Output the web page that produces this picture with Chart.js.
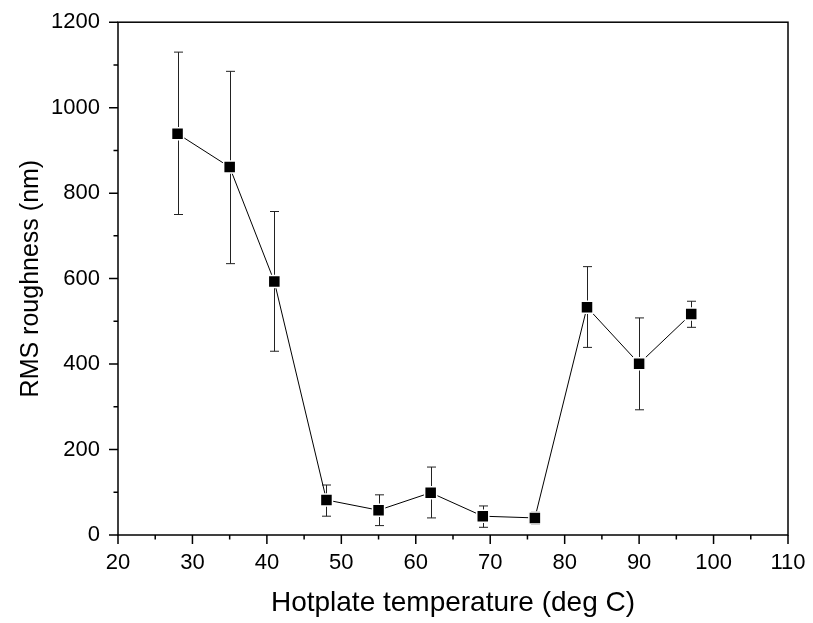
<!DOCTYPE html>
<html lang="en">
<head>
<meta charset="UTF-8">
<title>RMS roughness vs hotplate temperature</title>
<script src="https://cdn.jsdelivr.net/npm/chart.js"></script>
<style>
  html, body { margin: 0; padding: 0; background: #fff; }
  #wrap { width: 813px; height: 623px; }
</style>
</head>
<body>
<div id="wrap"><canvas id="roughChart" width="813" height="623"></canvas></div>
<script>
// data
const temps   = [28, 35, 41, 48, 55, 62, 69, 76, 83, 90, 97];
const rms     = [939, 861, 593, 82, 58, 99, 44, 40, 533, 401, 517];
const errHigh = [1130, 1085, 757, 117, 94, 159, 68, 54, 628, 508, 547];
const errLow  = [750, 635, 430, 44, 22, 40, 18, 25, 439, 293, 486];

const xMajor = [20, 30, 40, 50, 60, 70, 80, 90, 100, 110];
const yMajor = [0, 200, 400, 600, 800, 1000, 1200];

const FONT = "'Liberation Sans', Arial, sans-serif";

// error bars, drawn under the line and markers
const errorBars = {
  id: 'errorBars',
  beforeDatasetsDraw(chart) {
    const { ctx, scales: { x, y } } = chart;
    ctx.save();
    ctx.strokeStyle = '#222';
    ctx.lineWidth = 1;
    temps.forEach((t, i) => {
      const px = Math.round(x.getPixelForValue(t)) + 0.5;
      const top = y.getPixelForValue(errHigh[i]);
      const bot = y.getPixelForValue(errLow[i]);
      ctx.beginPath();
      ctx.moveTo(px, top); ctx.lineTo(px, bot);
      ctx.moveTo(px - 4.5, top); ctx.lineTo(px + 4.5, top);
      ctx.moveTo(px - 4.5, bot); ctx.lineTo(px + 4.5, bot);
      ctx.stroke();
    });
    ctx.restore();
  }
};

// box frame plus outward major / minor ticks
const frame = {
  id: 'frame',
  afterDraw(chart) {
    const { ctx, chartArea: a, scales: { x, y } } = chart;
    ctx.save();
    ctx.strokeStyle = '#000';
    ctx.lineWidth = 1.5;
    ctx.strokeRect(a.left, a.top, a.right - a.left, a.bottom - a.top);
    ctx.beginPath();
    for (let v = 20; v <= 110; v += 5) {
      const px = x.getPixelForValue(v);
      const len = v % 10 === 0 ? 9 : 4.5;
      ctx.moveTo(px, a.bottom); ctx.lineTo(px, a.bottom + len);
    }
    for (let v = 0; v <= 1200; v += 100) {
      const py = y.getPixelForValue(v);
      const len = v % 200 === 0 ? 9 : 4.5;
      ctx.moveTo(a.left, py); ctx.lineTo(a.left - len, py);
    }
    ctx.stroke();
    ctx.restore();
  }
};

new Chart(document.getElementById('roughChart'), {
  type: 'line',
  data: {
    datasets: [{
      data: temps.map((t, i) => ({ x: t, y: rms[i] })),
      borderColor: '#000',
      borderWidth: 1,
      pointStyle: 'rect',
      pointRadius: 8.5,
      pointBackgroundColor: '#000',
      pointBorderColor: '#fff',
      pointBorderWidth: 1.5,
      tension: 0
    }]
  },
  options: {
    responsive: false,
    animation: false,
    layout: { padding: { left: 0, top: 21, right: 25, bottom: 0 } },
    plugins: { legend: { display: false }, tooltip: { enabled: false } },
    scales: {
      x: {
        type: 'linear',
        min: 20, max: 110,
        afterBuildTicks: s => { s.ticks = xMajor.map(v => ({ value: v })); },
        afterFit: s => { s.height = 88; },
        grid: { display: false, drawTicks: true, tickLength: 9 },
        border: { display: false },
        ticks: {
          autoSkip: false, maxRotation: 0, padding: 6, color: '#000',
          font: { family: FONT, size: 22 },
          callback: v => String(v)
        },
        title: {
          display: true, text: 'Hotplate temperature (deg C)', color: '#000',
          font: { family: FONT, size: 28 }, padding: { top: 0, bottom: 3 }
        }
      },
      y: {
        type: 'linear',
        min: 0, max: 1200,
        afterBuildTicks: s => { s.ticks = yMajor.map(v => ({ value: v })); },
        afterFit: s => { s.width = 118; },
        grid: { display: false, drawTicks: true, tickLength: 9 },
        border: { display: false },
        ticks: {
          autoSkip: false, padding: 9, color: '#000',
          font: { family: FONT, size: 22 },
          callback: v => String(v)
        },
        title: {
          display: true, text: 'RMS roughness (nm)', color: '#000',
          font: { family: FONT, size: 25 }, padding: { top: 16, bottom: 0 }
        }
      }
    }
  },
  plugins: [errorBars, frame]
});
</script>
</body>
</html>
